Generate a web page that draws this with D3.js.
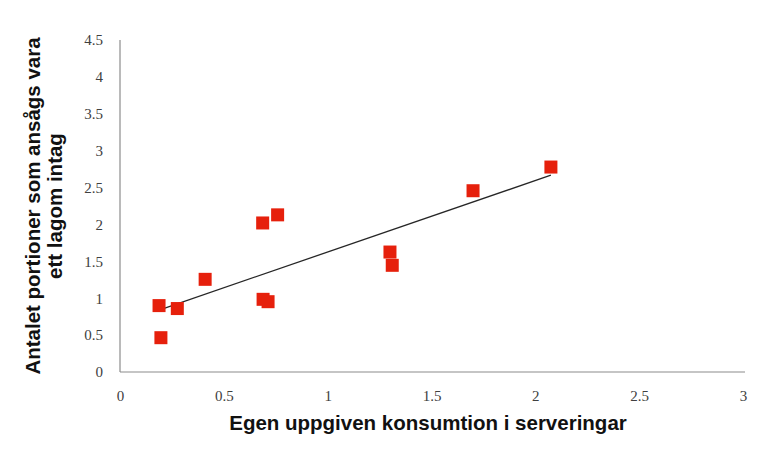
<!DOCTYPE html>
<html>
<head>
<meta charset="utf-8">
<script src="https://cdn.jsdelivr.net/npm/d3@7"></script>
<style>
  body { margin: 0; background: #fff; }
  svg { display: block; }
</style>
</head>
<body>
<svg id="plot" width="774" height="452"></svg>
<script>
// consumption (x) vs. portions considered adequate (y)
const xValues = [0.188, 0.197, 0.276, 0.41, 0.687, 0.759, 0.689, 0.713, 1.30, 1.311, 1.70, 2.075]
const yValues = [0.90, 0.465, 0.86, 1.256, 2.02, 2.13, 0.985, 0.953, 1.626, 1.446, 2.457, 2.778]
const xTicks = [0, 0.5, 1, 1.5, 2, 2.5, 3]
const yTicks = [0, 0.5, 1, 1.5, 2, 2.5, 3, 3.5, 4, 4.5]

const points = xValues.map((x, i) => ({ x: x, y: yValues[i] }))

const plot = d3.select('#plot')

const plotLeft = 120, plotRight = 743, plotTop = 40, plotBottom = 372

const xScale = d3.scaleLinear().domain([0, 3]).range([plotLeft, plotRight])
const yScale = d3.scaleLinear().domain([0, 4.5]).range([plotBottom, plotTop])

// axis lines
plot.append('line')
    .attr('x1', plotLeft).attr('x2', plotLeft)
    .attr('y1', plotTop).attr('y2', plotBottom)
    .attr('stroke', '#8c8c8c').attr('stroke-width', 1.2)

plot.append('line')
    .attr('x1', plotLeft).attr('x2', plotRight + 2)
    .attr('y1', plotBottom).attr('y2', plotBottom)
    .attr('stroke', '#8c8c8c').attr('stroke-width', 1.2)

const xAxis = d3.axisBottom(xScale)
    .tickValues(xTicks)
    .tickFormat(d3.format('~g'))
    .tickSize(0)
    .tickPadding(18)

const yAxis = d3.axisLeft(yScale)
    .tickValues(yTicks)
    .tickFormat(d3.format('~g'))
    .tickSize(0)
    .tickPadding(17)

plot.append('g')
    .classed('xAxis', true)
    .attr('transform', `translate(0, ${plotBottom})`)
    .call(xAxis)

plot.append('g')
    .classed('yAxis', true)
    .attr('transform', `translate(${plotLeft}, 0)`)
    .call(yAxis)

plot.selectAll('.xAxis .domain, .yAxis .domain').remove()
plot.selectAll('.xAxis text, .yAxis text')
    .style('font-family', '"Liberation Serif", "DejaVu Serif", serif')
    .style('font-size', '15px')
    .attr('fill', '#404040')

// linear trend line (least squares), drawn from min x to max x
const mx = d3.mean(xValues), my = d3.mean(yValues)
const slope = d3.sum(points, d => (d.x - mx) * (d.y - my)) / d3.sum(points, d => (d.x - mx) ** 2)
const intercept = my - slope * mx
const xExt = d3.extent(xValues)
const trend = xExt.map(x => ({ x: x, y: intercept + slope * x }))

const line = d3.line()
    .x(d => xScale(d.x))
    .y(d => yScale(d.y))

plot.append('path')
    .attr('d', line(trend))
    .attr('stroke', '#262626')
    .attr('stroke-width', 1.3)
    .style('fill', 'none')

// markers
const size = 13
plot.append('g')
    .selectAll('rect')
    .data(points)
    .join('rect')
    .attr('x', d => xScale(d.x) - size / 2)
    .attr('y', d => yScale(d.y) - size / 2)
    .attr('width', size)
    .attr('height', size)
    .attr('fill', '#e6200c')

// axis titles
plot.append('text')
    .attr('x', 428)
    .attr('y', 430)
    .attr('text-anchor', 'middle')
    .style('font-family', '"Liberation Sans", Arial, sans-serif')
    .style('font-weight', 'bold')
    .style('font-size', '20.5px')
    .attr('fill', '#111')
    .text('Egen uppgiven konsumtion i serveringar')

const yTitle = plot.append('text')
    .attr('transform', 'translate(40, 206) rotate(-90)')
    .attr('text-anchor', 'middle')
    .style('font-family', '"Liberation Sans", Arial, sans-serif')
    .style('font-weight', 'bold')
    .style('font-size', '20.5px')
    .attr('fill', '#111')

yTitle.append('tspan').attr('x', 0).attr('y', 0).text('Antalet portioner som ansågs vara')
yTitle.append('tspan').attr('x', 0).attr('y', 22).text('ett lagom intag')
</script>
</body>
</html>
